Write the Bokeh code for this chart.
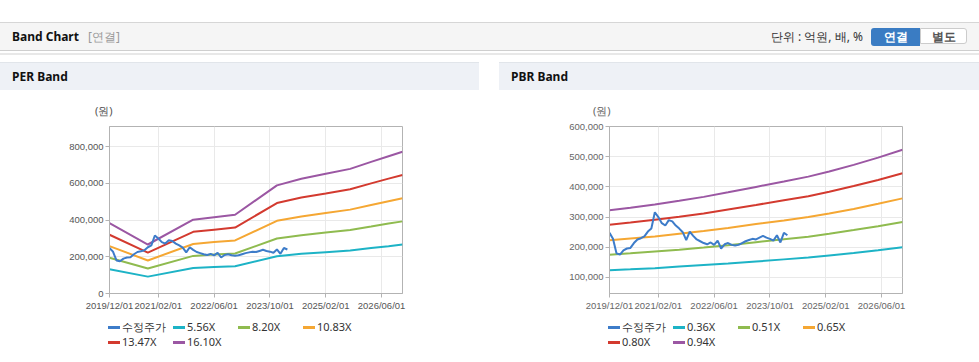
import pandas as pd
from bokeh.plotting import figure
from bokeh.models import Range1d, FixedTicker, NumeralTickFormatter, Div
from bokeh.layouts import column, row
from bokeh.embed import file_html
from bokeh.resources import INLINE

# ---------------- data ----------------
x_tick_labels = ["2019/12/01", "2021/02/01", "2022/06/01", "2023/10/01", "2025/02/01", "2026/06/01"]
x_start = "2019-12-01"
x_end = "2026-12-01"

price_label = "수정주가"
price_start = "2019-12-01"
price = [248000, 228000, 180000, 176000, 190000, 196000, 198000, 214000, 226000, 230000,
         236000, 252000, 262000, 316000, 300000, 280000, 272000, 290000, 286000, 272000,
         262000, 250000, 224000, 252000, 238000, 226000, 220000, 214000, 210000, 216000,
         208000, 222000, 196000, 210000, 214000, 208000, 206000, 208000, 214000, 220000,
         224000, 228000, 226000, 232000, 238000, 232000, 228000, 222000, 240000, 216000,
         248000, 240000]

per_labels = ["5.56X", "8.20X", "10.83X", "13.47X", "16.10X"]
per_dates = ["2019-12-01", "2020-11-01", "2021-12-01", "2022-06-01", "2022-12-01", "2023-12-01",
             "2024-07-01", "2025-02-01", "2025-09-01", "2026-03-01", "2026-08-01", "2026-12-01"]
per_556 = [132000, 92000, 139000, 144000, 148000, 203000, 216000, 225000, 234000, 248000, 258000, 267000]
per_820 = [195000, 136000, 205000, 212000, 218000, 300000, 318000, 332000, 346000, 365000, 381000, 393000]
per_1083 = [258000, 180000, 270000, 280000, 289000, 396000, 420000, 439000, 457000, 482000, 503000, 519000]
per_1347 = [320000, 223000, 336000, 348000, 359000, 493000, 523000, 545000, 568000, 600000, 626000, 646000]
per_1610 = [383000, 267000, 402000, 416000, 429000, 589000, 625000, 652000, 679000, 717000, 748000, 772000]
per_y_ticks = [0, 200000, 400000, 600000, 800000]

pbr_labels = ["0.36X", "0.51X", "0.65X", "0.80X", "0.94X"]
pbr_dates = ["2019-12-01", "2020-06-01", "2021-01-01", "2021-08-01", "2022-03-01", "2022-10-01",
             "2023-06-01", "2024-02-01", "2024-09-01", "2025-03-01", "2025-10-01", "2026-05-01",
             "2026-12-01"]
pbr_036 = [124000, 127000, 131000, 136000, 141000, 146000, 153000, 160000, 166000, 173000, 181000, 190000, 200000]
pbr_051 = [175000, 180000, 186000, 192000, 199000, 207000, 217000, 227000, 235000, 245000, 257000, 270000, 284000]
pbr_065 = [223000, 229000, 236000, 245000, 254000, 264000, 277000, 289000, 300000, 312000, 327000, 344000, 362000]
pbr_080 = [275000, 282000, 291000, 301000, 312000, 325000, 340000, 356000, 369000, 384000, 403000, 423000, 445000]
pbr_094 = [323000, 331000, 342000, 354000, 367000, 382000, 400000, 418000, 434000, 451000, 473000, 497000, 523000]
pbr_y_ticks = [100000, 200000, 300000, 400000, 500000, 600000]

# ---------------- style ----------------
PRICE_COLOR = "#3d7cc9"
BAND_COLORS = ["#1db3c6", "#8fbb4f", "#f5a733", "#d33a2f", "#9b57a3"]
NUM = "Liberation Sans"
W_TOTAL = 979
CSS_FONT = "font-family:'Noto Sans',sans-serif;"
T0 = pd.Timestamp(x_start)


def month_index(d):
    t = pd.Timestamp(str(d).replace("/", "-"))
    return (t.year - T0.year) * 12 + (t.month - T0.month)


def span(left, top, text, extra):
    return f"<span style=\"position:absolute;left:{left}px;top:{top}px;white-space:nowrap;{extra}\">{text}</span>"


TOP_H = 119
top_html = (
    f"<div style=\"position:relative;width:{W_TOTAL}px;height:{TOP_H}px;overflow:hidden;{CSS_FONT}\">"
    "<div style=\"position:absolute;left:0;top:22px;width:100%;height:29px;background:#f5f5f5;"
    "border-top:1px solid #d6d6d6;border-bottom:1px solid #cfcfcf;\"></div>"
    "<div style=\"position:absolute;left:0;top:53px;width:100%;height:2px;background:#e8e8e8;\"></div>"
    + span(12, 22, "Band Chart", "line-height:30px;font-size:12px;font-weight:bold;color:#111;")
    + span(88, 22, "[연결]", "line-height:30px;font-size:12px;color:#9a9a9a;")
    + "<span style=\"position:absolute;right:116px;top:22px;line-height:30px;font-size:12px;color:#333;white-space:nowrap;\">단위 : 억원, 배, %</span>"
    + "<span style=\"position:absolute;left:871px;top:28px;width:49px;height:18px;line-height:18px;text-align:center;"
    "font-size:12px;font-weight:bold;color:#fff;background:#3a7cc3;border-radius:3px 0 0 3px;\">연결</span>"
    + "<span style=\"position:absolute;left:920px;top:28px;width:47px;height:16px;line-height:16px;text-align:center;"
    "font-size:12px;font-weight:bold;color:#555;background:#fff;border:1px solid #cccccc;border-radius:0 3px 3px 0;\">별도</span>"
    + "<div style=\"position:absolute;left:0;top:62px;width:479px;height:28px;background:#eef1f6;border-top:1px solid #e1e5ea;\"></div>"
    + "<div style=\"position:absolute;left:499px;top:62px;width:480px;height:28px;background:#eef1f6;border-top:1px solid #e1e5ea;\"></div>"
    + span(12, 63, "PER Band", "line-height:28px;font-size:12px;font-weight:bold;color:#111;")
    + span(511, 63, "PBR Band", "line-height:28px;font-size:12px;font-weight:bold;color:#111;")
    + span(95, 104, "(원)", "line-height:14px;font-size:11px;color:#555;")
    + span(593, 104, "(원)", "line-height:14px;font-size:11px;color:#666;")
    + "</div>"
)
top_div = Div(text=top_html, width=W_TOTAL, height=TOP_H, margin=0)


def legend_html(x0, labels):
    names = [price_label] + labels
    cols = [PRICE_COLOR] + BAND_COLORS
    out = ""
    for i, (nm, c) in enumerate(zip(names, cols)):
        cx = x0 + (i % 4) * 65
        cy = 11 + (i // 4) * 15
        out += (f"<div style=\"position:absolute;left:{cx}px;top:{cy - 1}px;width:12px;height:3px;background:{c};\"></div>"
                + span(cx + 14, cy - 8, nm, "line-height:16px;font-size:11px;color:#333;"))
    return out


LEG_H = 46
leg_div = Div(text=(f"<div style=\"position:relative;width:{W_TOTAL}px;height:{LEG_H}px;overflow:hidden;{CSS_FONT}\">"
                    + legend_html(108, per_labels) + legend_html(608, pbr_labels) + "</div>"),
              width=W_TOTAL, height=LEG_H, margin=0)


def band_chart(width, left_border, y_start, y_end, y_ticks, dates, bands, label_color):
    frame_w = 293
    p = figure(width=width, height=197,
               x_range=Range1d(0, month_index(x_end)), y_range=Range1d(y_start, y_end),
               output_backend="svg", toolbar_location=None, tools="",
               min_border_left=left_border, min_border_right=width - left_border - frame_w,
               min_border_top=7, min_border_bottom=23)
    p.outline_line_color = "#b3b3b3"
    p.grid.grid_line_color = "#e9e9e9"
    for ax in (p.xaxis, p.yaxis):
        ax.axis_line_color = "#b3b3b3"
        ax.major_tick_line_color = "#b3b3b3"
        ax.major_tick_out = 4
        ax.major_tick_in = 0
        ax.minor_tick_line_color = None
        ax.major_label_text_font = NUM
        ax.major_label_text_font_size = "9.5px"
        ax.major_label_text_color = label_color
        ax.major_label_standoff = 2

    p.yaxis.ticker = FixedTicker(ticks=y_ticks)
    p.yaxis.formatter = NumeralTickFormatter(format="0,0")
    xt = [month_index(t) for t in x_tick_labels]
    p.xaxis.ticker = FixedTicker(ticks=xt)
    p.xaxis.major_label_overrides = {m: lab for m, lab in zip(xt, x_tick_labels)}

    xb = [month_index(d) for d in dates]
    for vals, col in zip(bands, BAND_COLORS):
        p.line(x=xb, y=vals, line_color=col, line_width=2)
    xp = [month_index(price_start) + i for i in range(len(price))]
    p.line(x=xp, y=price, line_color=PRICE_COLOR, line_width=2)
    return p


per_chart = band_chart(479, 109, 0, 910000, per_y_ticks, per_dates,
                       [per_556, per_820, per_1083, per_1347, per_1610], "#555555")
pbr_chart = band_chart(480, 110, 47000, 600000, pbr_y_ticks, pbr_dates,
                       [pbr_036, pbr_051, pbr_065, pbr_080, pbr_094], "#666666")

layout = column(top_div, row(per_chart, pbr_chart, spacing=20), leg_div)

open("out.html", "w").write(file_html(layout, INLINE))
